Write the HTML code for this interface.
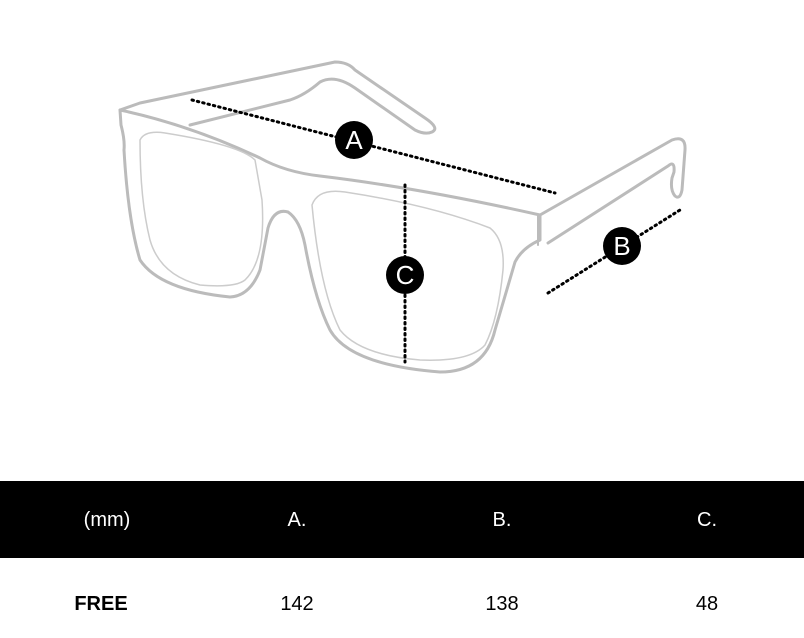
<!DOCTYPE html>
<html><head><style>
body{margin:0;width:804px;height:638px;background:#fff;overflow:hidden;position:relative;font-family:"Liberation Sans",sans-serif}
.bar{position:absolute;left:0;top:481px;width:804px;height:77px;background:#000}
.t{position:absolute;transform:translateX(-50%);font-size:20px}
</style></head><body>
<svg width="804" height="470" style="position:absolute;left:0;top:0">
<g fill="none" stroke="#bbb" stroke-width="3" stroke-linejoin="round" stroke-linecap="round">
<path d="M120,110 L121,125 Q125,140 124,150 Q128,220 140,260 Q160,290 230,297 Q250,296 260,270 L268,228 Q274,208 288,212 Q300,220 305,245 Q315,300 330,330 Q350,365 440,372 Q485,372 495,330 L515,262 Q522,248 540,240 L540,215 Q420,188 320,176 Q285,172 260,158 Q190,125 120,110 Z"/>
<path d="M538,215 L538,245" stroke-width="2"/>
<path d="M120,110 L140,103 L335,62 Q348,62 355,70 L425,118 Q440,128 432,132 Q425,135 415,130 L355,88 Q335,74 320,82 Q305,95 290,100 L190,125"/>
<path d="M540,215 L672,140 Q686,135 685,150 L682,190 Q680,200 675,196 Q670,190 672,178 L674,172 Q675,160 668,166 L548,243"/>
</g>
<g fill="none" stroke="#ccc" stroke-width="1.5">
<path d="M140,140 Q145,130 165,133 Q240,145 255,160 L262,200 Q266,260 245,280 Q235,288 200,285 Q160,275 150,240 Q140,200 140,140 Z"/>
<path d="M312,205 Q318,188 345,192 Q430,205 490,228 Q505,240 503,270 Q498,320 485,345 Q470,362 420,360 Q360,355 340,330 Q320,290 312,205 Z"/>
</g>
<g stroke="#000" stroke-width="3" stroke-dasharray="1.5 4" stroke-linecap="round" fill="none">
<line x1="192" y1="100" x2="555" y2="193"/>
<line x1="405" y1="185" x2="405" y2="362"/>
<line x1="548" y1="293" x2="680" y2="210"/>
</g>
<g fill="#000"><circle cx="354" cy="140" r="19"/><circle cx="622" cy="246" r="19"/><circle cx="405" cy="275" r="19"/></g>
<g fill="#fff" font-size="26" text-anchor="middle" font-family="Liberation Sans,sans-serif">
<text x="354" y="149">A</text><text x="622" y="255">B</text><text x="405" y="284">C</text></g>
</svg>
<div class="bar"></div>
<div class="t" style="left:107px;top:509px;color:#fff">(mm)</div>
<div class="t" style="left:297px;top:509px;color:#fff">A.</div>
<div class="t" style="left:502px;top:509px;color:#fff">B.</div>
<div class="t" style="left:707px;top:509px;color:#fff">C.</div>
<div class="t" style="left:101px;top:593px;font-weight:bold">FREE</div>
<div class="t" style="left:297px;top:593px">142</div>
<div class="t" style="left:502px;top:593px">138</div>
<div class="t" style="left:707px;top:593px">48</div>
</body></html>
